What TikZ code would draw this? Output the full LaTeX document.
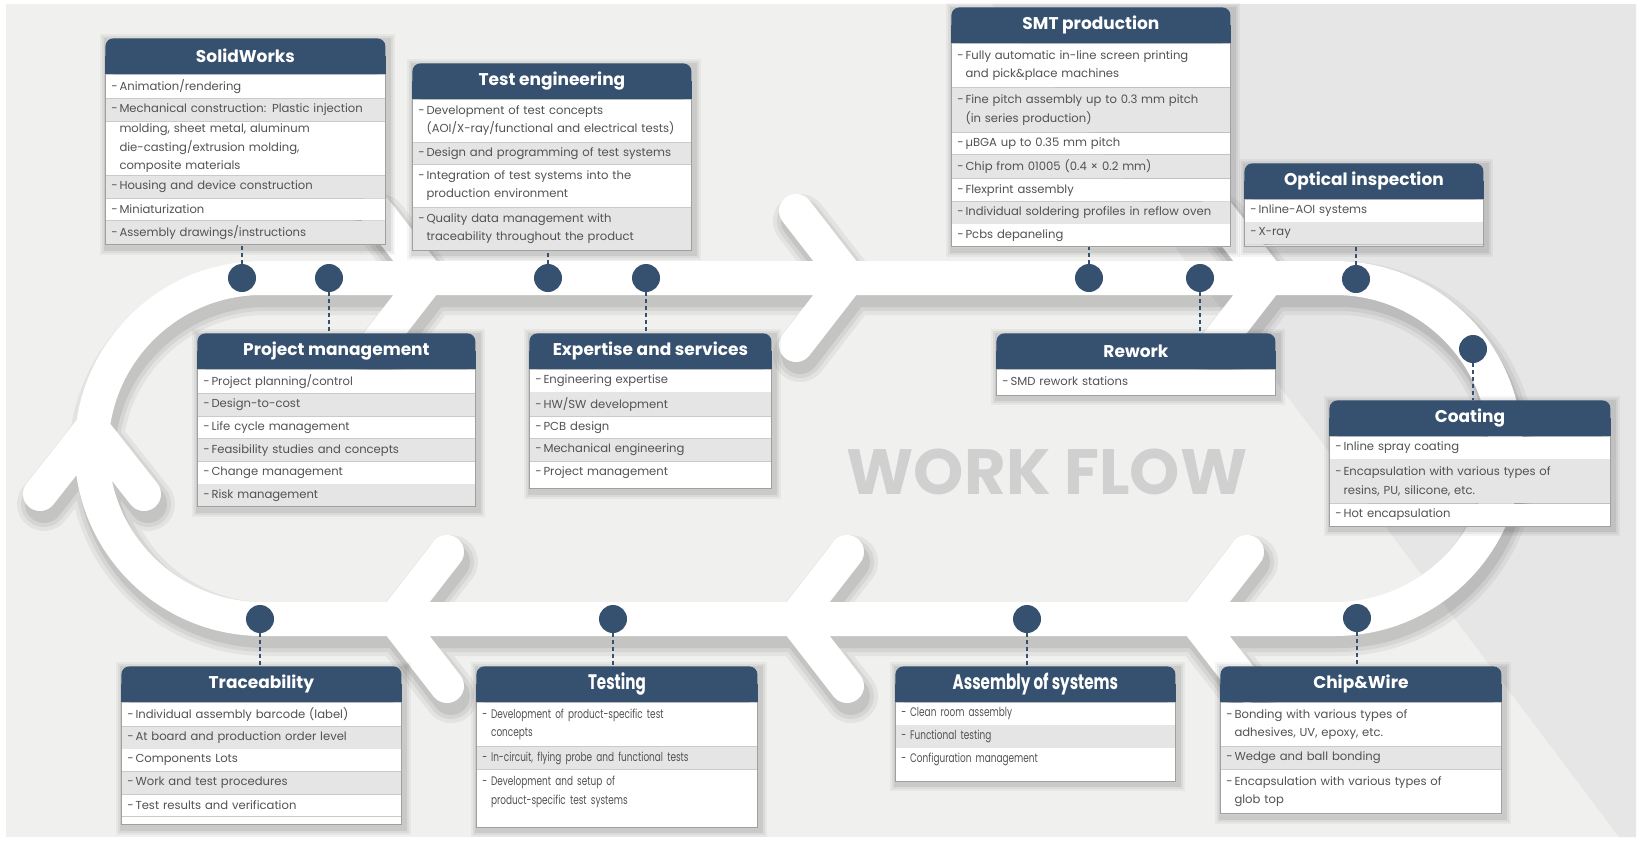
\documentclass[tikz,border=0pt]{standalone}
\usepackage{fontspec}
\setmainfont{Poppins}
\newfontfamily\narrowfont[FakeStretch=0.72]{Poppins}
\usetikzlibrary{positioning}
\definecolor{navy}{RGB}{54,81,111}
\definecolor{rowgrey}{RGB}{229,229,229}
\definecolor{textgrey}{RGB}{82,82,82}
\definecolor{paper}{RGB}{240,240,238}
\definecolor{paperdark}{RGB}{230,230,230}
\definecolor{flowgrey}{RGB}{208,208,208}
\definecolor{edgegrey}{RGB}{160,160,160}
\hyphenpenalty=10000

\pgfdeclarelayer{track}
\pgfdeclarelayer{shade}
\pgfsetlayers{track,shade,main}

% the white loop and its arrow heads
\newcommand{\trackloop}{(262,-278) -- (1335,-278) arc[start angle=90,end angle=-90,radius=170.5]
  -- (262,-619) arc[start angle=270,end angle=90,radius=170.5] -- cycle}
\newcommand{\trackarrows}{(376,-211) -- (428,-278) -- (376,-345)
  (796,-211) -- (848,-278) -- (796,-345)
  (1216,-211) -- (1268,-278) -- (1216,-345)
  (447,-552) -- (395,-619) -- (447,-686)
  (847,-552) -- (795,-619) -- (847,-686)
  (1247,-552) -- (1195,-619) -- (1247,-686)
  (40,-494) -- (92,-428) -- (144,-494)}

% fonts of the card texts, changed for the narrow cards
\newcommand{\headfont}{\fontsize{8.5}{10}\selectfont\bfseries}
\newcommand{\rowfont}{\fontsize{5.8}{9.2}\selectfont}
\newcommand{\linestep}{10.9pt}
% line breaks inside an item, indented past the dash;
% \nl also makes the stripe one line taller
\newcount\rowlines
\newdimen\rowpad
\newcommand{\nl}{\global\advance\rowlines by 1 \newline\hspace*{0.7em}}
\newcommand{\nls}{\newline\hspace*{0.7em}}
% \cont starts a stripe that goes on with the item above (no dash)
\newcommand{\cont}{\global\rowpad=1.2pt\hspace*{0.7em}}
\newcommand{\rowdash}{\futurelet\rownext\rowdashcheck}
\newcommand{\rowdashcheck}{\ifx\rownext\cont\else\makebox[0.7em][l]{-}\fi}

% card: header + striped rows, [#1] = extra space under the last row
\newcommand{\card}[6][0pt]{%
  \pgfmathsetlengthmacro{\rowwidth}{#4-6pt}%
  \node[cardhead, minimum width=#4, anchor=north west, alias=#2-0] (#2) at #3 {#5};
  \foreach \txt [count=\k] in {#6} {
    \pgfmathtruncatemacro{\prev}{\k-1}
    \ifodd\k\relax\def\shade{white}\else\def\shade{rowgrey}\fi
    \global\rowlines=1 \global\rowpad=2.35pt
    \node[cardrow, text width=\rowwidth, fill=\shade, below=0pt of #2-\prev] (#2-\k)
      {\expandafter\rowdash\txt};
    \global\let\lastshade\shade
    \coordinate (#2-end) at (#2-\k.south east);
  }
  \path (#2-end) ++(0,-#1) coordinate (#2-se) (#2-0.west |- #2-se) coordinate (#2-sw);
  \fill[\lastshade] (#2-end) rectangle (#2-sw);
  \draw[cardedge] (#2-1.north west) -- (#2-sw) -- (#2-se) -- (#2-1.north east);
  \begin{pgfonlayer}{shade}
    \foreach \sp/\op in {3.5pt/.04, 2.5pt/.05, 1.5pt/.07}
      \fill[black, opacity=\op] ([shift={(-\sp+1pt,\sp-1.5pt)}]#2-0.north west)
        rectangle ([shift={(\sp+1pt,-\sp-1.5pt)}]#2-se);
    \fill[navy] (#2-0.west) rectangle (#2-0.south east);
  \end{pgfonlayer}
}

\begin{document}
\begin{tikzpicture}[x=0.5pt, y=0.5pt,
    cardhead/.style={fill=navy, text=white, rounded corners=4pt, inner sep=0pt,
        minimum height=17.8pt, font=\headfont},
    cardrow/.style={inner xsep=3pt, inner ysep=\the\rowpad, minimum height=\the\rowlines*\linestep,
        align=left, text=textgrey, font=\rowfont},
    cardedge/.style={draw=edgegrey, line width=0.5pt},
    flowdot/.style={circle, fill=navy, minimum size=14pt, inner sep=0pt},
    link/.style={draw=navy, dashed, dash pattern=on 2pt off 1.5pt, line width=0.9pt},
    trackline/.style={line width=17pt, line cap=round, line join=round}
]
\useasboundingbox (0,0) rectangle (1642,-841);

\begin{pgfonlayer}{track}
  \fill[white] (0,0) rectangle (1642,-841);
  \fill[paper] (6,-4) rectangle (1636,-837);
  \fill[paperdark] (992,-4) -- (1636,-4) -- (1636,-837) -- (1619,-837) -- cycle;
  % soft shadow under the loop
  \foreach \w/\op in {27pt/.05, 23pt/.06, 19pt/.08}
    \draw[trackline, shift={(2pt,-5pt)}, line width=\w, black, opacity=\op] \trackloop \trackarrows;
  \draw[trackline, white] \trackloop \trackarrows;
\end{pgfonlayer}

\node[font=\fontsize{32}{32}\selectfont\bfseries, text=flowgrey] (flow) at (1047,-472) {WORK FLOW};

% stops on the loop
\node[flowdot] (solidDot) at (242,-278) {};
\node[flowdot] (pmDot) at (329,-278) {};
\node[flowdot] (testengDot) at (548,-278) {};
\node[flowdot] (expertDot) at (646,-278) {};
\node[flowdot] (smtDot) at (1089,-278) {};
\node[flowdot] (reworkDot) at (1200,-278) {};
\node[flowdot] (opticDot) at (1356,-279) {};
\node[flowdot] (coatDot) at (1473,-349) {};
\node[flowdot] (chipDot) at (1357,-618) {};
\node[flowdot] (assemblyDot) at (1027,-619) {};
\node[flowdot] (testingDot) at (613,-619) {};
\node[flowdot] (traceDot) at (260,-619) {};

% cards
\card{solid}{(105,-38)}{140pt}{SolidWorks}{Animation/rendering,
  Mechanical construction: Plastic injection,
  \cont molding{,} sheet metal{,} aluminum\nls die-casting/extrusion molding{,}\nls composite materials,
  Housing and device construction, Miniaturization, Assembly drawings/instructions}
{\renewcommand{\linestep}{10.5pt}%
 \card{testeng}{(412,-63)}{139.5pt}{Test engineering}{Development of test concepts\nl (AOI/X-ray/functional and electrical tests),
   Design and programming of test systems,
   Integration of test systems into the\nl production environment,
   Quality data management with\nl traceability throughout the product}}
\card{smt}{(951,-7)}{139.5pt}{SMT production}{Fully automatic in-line screen printing\nl and pick\&place machines,
  Fine pitch assembly up to 0.3 mm pitch\nl (in series production),
  µBGA up to 0.35 mm pitch, Chip from 01005 (0.4 × 0.2 mm), Flexprint assembly,
  Individual soldering profiles in reflow oven, Pcbs depaneling}
\card[1pt]{optic}{(1244,-163)}{119.5pt}{Optical inspection}{Inline-AOI systems, X-ray}
\card{pm}{(197,-333)}{139pt}{Project management}{Project planning/control, Design-to-cost,
  Life cycle management, Feasibility studies and concepts, Change management, Risk management}
\card[2.5pt]{expert}{(529,-333)}{121pt}{Expertise and services}{Engineering expertise,
  HW/SW development, PCB design, Mechanical engineering, Project management}
\card[1.5pt]{rework}{(996,-333)}{139.5pt}{Rework}{SMD rework stations}
\card{coat}{(1329,-400)}{140.5pt}{Coating}{Inline spray coating,
  {Encapsulation with various types of\nl resins, PU, silicone, etc.}, Hot encapsulation}
\card[4pt]{trace}{(121,-666)}{140pt}{Traceability}{Individual assembly barcode (label),
  At board and production order level, Components Lots, Work and test procedures,
  Test results and verification}
{\renewcommand{\headfont}{\narrowfont\fontsize{10.5}{11}\selectfont\bfseries}%
 \renewcommand{\rowfont}{\narrowfont\fontsize{6.2}{9.2}\selectfont}%
 \card[6.5pt]{testing}{(476,-666)}{140.5pt}{Testing}{Development of product-specific test\nl concepts,
   {In-circuit, flying probe and functional tests},
   Development and setup of\nl product-specific test systems}
 \card[5pt]{assembly}{(895,-666)}{140pt}{Assembly of systems}{Clean room assembly,
   Functional testing, Configuration management}}
\card{chip}{(1220,-666)}{140.5pt}{Chip\&Wire}{{Bonding with various types of\nl adhesives, UV, epoxy, etc.},
  Wedge and ball bonding, Encapsulation with various types of\nl glob top}

% dashed leads from stops to cards
\draw[link] (solidDot) -- (solidDot |- solid-sw);
\draw[link] (testengDot) -- (testengDot |- testeng-sw);
\draw[link] (smtDot) -- (smtDot |- smt-sw);
\draw[link] (opticDot) -- (opticDot |- optic-sw);
\draw[link] (pmDot) -- (pmDot |- pm.north);
\draw[link] (expertDot) -- (expertDot |- expert.north);
\draw[link] (reworkDot) -- (reworkDot |- rework.north);
\draw[link] (coatDot) -- (coatDot |- coat.north);
\draw[link] (traceDot) -- (traceDot |- trace.north);
\draw[link] (testingDot) -- (testingDot |- testing.north);
\draw[link] (assemblyDot) -- (assemblyDot |- assembly.north);
\draw[link] (chipDot) -- (chipDot |- chip.north);
\end{tikzpicture}
\end{document}
